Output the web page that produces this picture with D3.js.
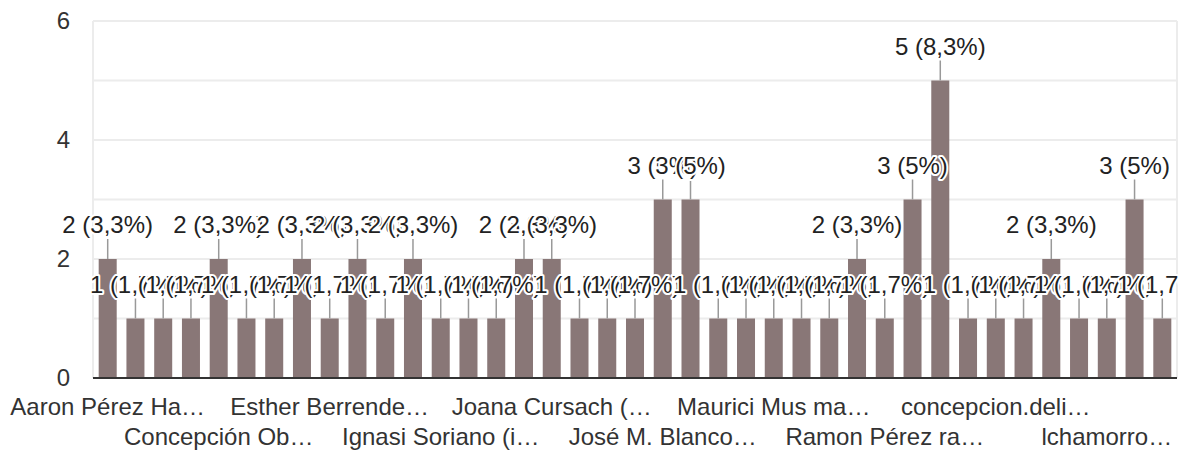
<!DOCTYPE html>
<html>
<head>
<meta charset="utf-8">
<script src="https://cdn.jsdelivr.net/npm/d3@7"></script>
<style>
  body { margin: 0; background: #fff; }
  text { font-family: Arial, "Liberation Sans", sans-serif; }
</style>
</head>
<body>
<script>
// Respuestas por persona (recuento)
var counts = [2, 1, 1, 1, 2, 1, 1, 2, 1, 2, 1, 2, 1, 1, 1, 2, 2, 1, 1, 1,
              3, 3, 1, 1, 1, 1, 1, 2, 1, 3, 5, 1, 1, 1, 2, 1, 1, 3, 1];

// Etiquetas visibles del eje X (solo una de cada cuatro barras)
var tickIndex = [0, 4, 8, 12, 16, 20, 24, 28, 32, 36];
var tickLabels = ["Aaron Pérez Ha…", "Concepción Ob…", "Esther Berrende…", "Ignasi Soriano (i…",
                  "Joana Cursach (…", "José M. Blanco…", "Maurici Mus ma…", "Ramon Pérez ra…",
                  "concepcion.deli…", "lchamorro…"];

var yTicks = [0, 2, 4, 6];

//Define the SVG Height & Width
var svgWidth = 1181;
var svgHeight = 451;

var plot = { left: 93, right: 1177, top: 21, bottom: 378 };
var fontSize = '24px';

var svg = d3.select('body')
    .append('svg')
    .attr('width', svgWidth)
    .attr('height', svgHeight);

//Clip the data labels at the right edge of the chart
svg.append('clipPath')
    .attr('id', 'chart-clip')
    .append('rect')
    .attr('x', 0)
    .attr('y', 0)
    .attr('width', plot.right + 1)
    .attr('height', svgHeight);

var total = d3.sum(counts);

//Scales
var xScale = d3.scaleBand()
    .domain(d3.range(counts.length))
    .range([plot.left, plot.right])
    .paddingInner(0.351)
    .paddingOuter(0.205);

var yScale = d3.scaleLinear()
    .domain([0, 6])
    .range([plot.bottom, plot.top]);

//Gridlines (every unit)
svg.append('g')
    .selectAll('line')
    .data(d3.range(1, 7))
    .enter()
    .append('line')
    .attr('x1', plot.left)
    .attr('x2', plot.right)
    .attr('y1', d => yScale(d))
    .attr('y2', d => yScale(d))
    .attr('stroke', '#ececec')
    .attr('stroke-width', 2);

//Side borders
svg.append('g')
    .selectAll('line')
    .data([plot.left, plot.right])
    .enter()
    .append('line')
    .attr('x1', d => d)
    .attr('x2', d => d)
    .attr('y1', plot.top)
    .attr('y2', plot.bottom)
    .attr('stroke', '#ececec')
    .attr('stroke-width', 2);

//Y axis
var yAxis = d3.axisLeft(yScale)
    .tickValues(yTicks)
    .tickSize(0)
    .tickPadding(23)
    .tickFormat(d3.format('d'));

svg.append('g')
    .attr('transform', `translate(${plot.left}, 0)`)
    .call(yAxis)
    .call(g => g.select('.domain').remove())
    .selectAll('text')
    .attr('font-size', fontSize)
    .attr('font-family', 'Arial, "Liberation Sans", sans-serif')
    .attr('fill', '#333');

//Bars
svg.append('g')
    .selectAll('rect')
    .data(counts)
    .enter()
    .append('rect')
    .attr('x', (d, i) => xScale(i))
    .attr('y', d => yScale(d))
    .attr('width', xScale.bandwidth())
    .attr('height', d => yScale(0) - yScale(d))
    .attr('fill', '#897777');

//Baseline
svg.append('line')
    .attr('x1', plot.left)
    .attr('x2', plot.right)
    .attr('y1', yScale(0))
    .attr('y2', yScale(0))
    .attr('stroke', '#333')
    .attr('stroke-width', 2);

//X axis
var labelOf = {};
tickIndex.forEach((idx, k) => labelOf[idx] = tickLabels[k]);

var xAxis = d3.axisBottom(xScale)
    .tickValues(tickIndex)
    .tickSize(0)
    .tickFormat(i => labelOf[i]);

svg.append('g')
    .attr('transform', `translate(0, ${yScale(0)})`)
    .call(xAxis)
    .call(g => g.select('.domain').remove())
    .selectAll('text')
    .attr('font-size', fontSize)
    .attr('font-family', 'Arial, "Liberation Sans", sans-serif')
    .attr('fill', '#333')
    .attr('dy', null)
    .attr('y', (d, k) => k % 2 === 0 ? 37 : 67);

//Leader lines
var labelGroup = svg.append('g')
    .attr('clip-path', 'url(#chart-clip)');
labelGroup.selectAll('line')
    .data(counts)
    .enter()
    .append('line')
    .attr('x1', (d, i) => xScale(i) + xScale.bandwidth() / 2)
    .attr('x2', (d, i) => xScale(i) + xScale.bandwidth() / 2)
    .attr('y1', d => yScale(d))
    .attr('y2', d => yScale(d) - 20)
    .attr('stroke', '#999')
    .attr('stroke-width', 1.5);

//Data labels (drawn in order, white halo)
var pct = d3.format('.1f');
labelGroup.selectAll('text')
    .data(counts)
    .enter()
    .append('text')
    .attr('x', (d, i) => xScale(i) + xScale.bandwidth() / 2)
    .attr('y', d => yScale(d) - 26)
    .attr('text-anchor', 'middle')
    .attr('font-size', fontSize)
    .attr('fill', '#222')
    .attr('stroke', '#fff')
    .attr('stroke-width', 4)
    .attr('stroke-linejoin', 'round')
    .attr('paint-order', 'stroke')
    .text(d => {
        var p = d / total * 100;
        var s = Number.isInteger(Math.round(p * 10) / 10) ? String(Math.round(p)) : pct(p).replace('.', ',');
        return `${d} (${s}%)`;
    });
</script>
</body>
</html>
